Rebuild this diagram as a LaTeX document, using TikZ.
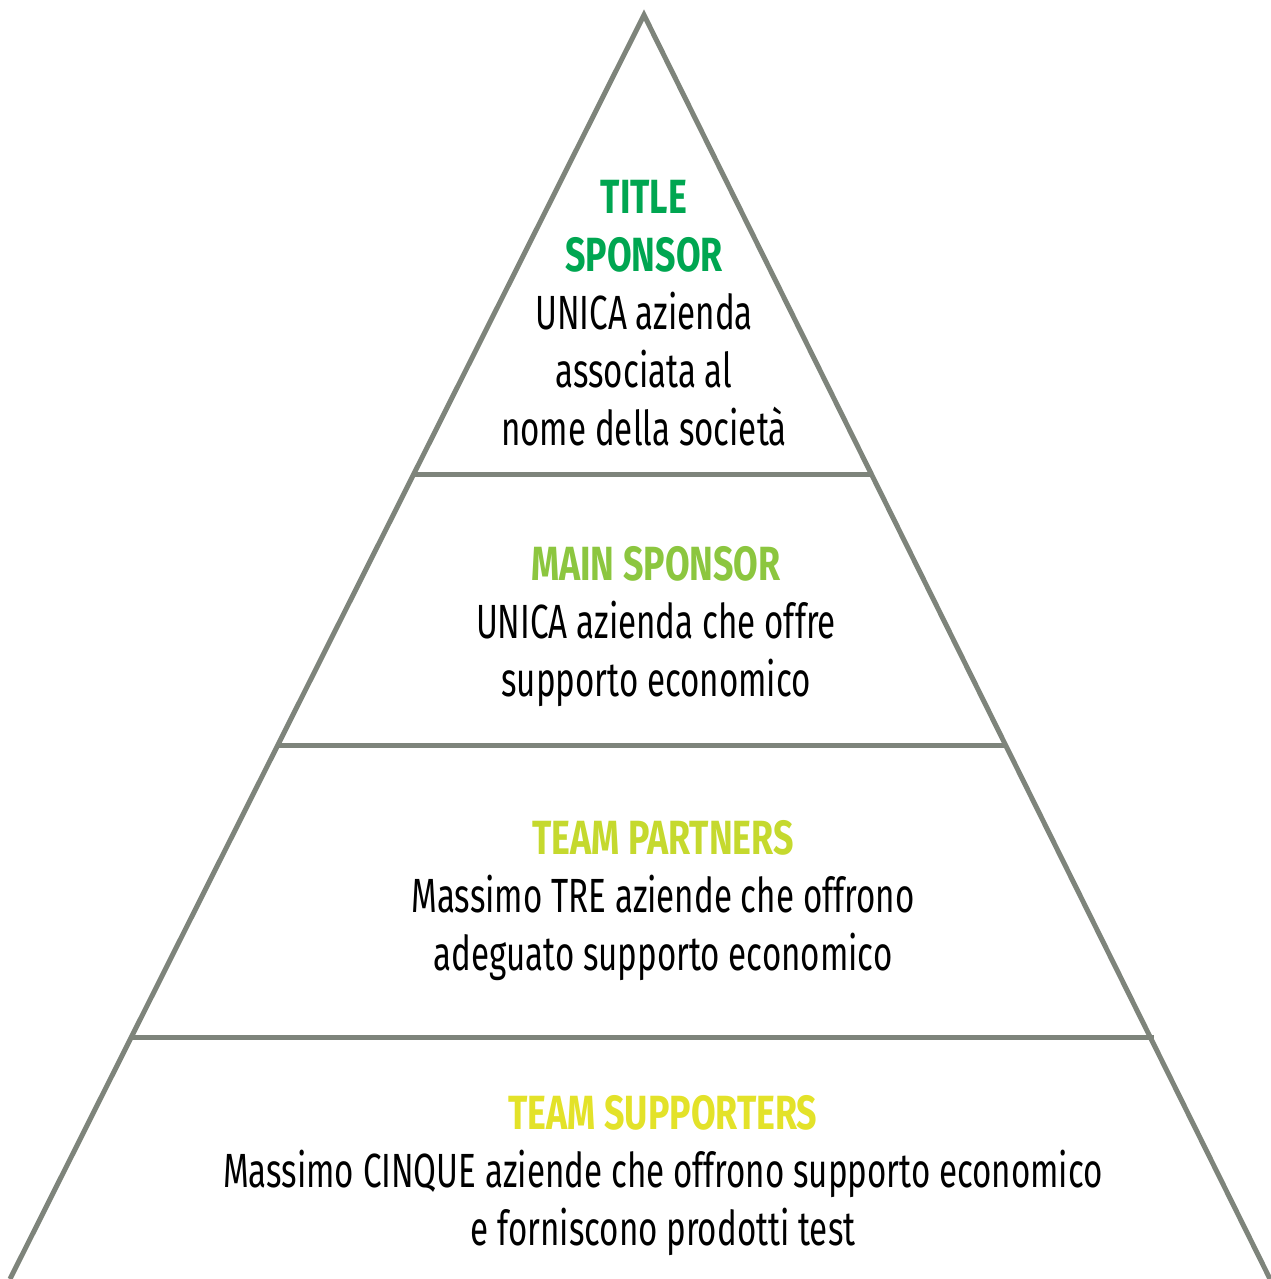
\documentclass[tikz,border=0pt]{standalone}
\usepackage{fontspec}
\setmainfont[FakeStretch=0.69]{Fira Sans}
\newfontfamily\headfont[FakeStretch=0.745]{Fira Sans}
\usepackage{tikz}
\usetikzlibrary{positioning}

\definecolor{lineGray}{HTML}{7E847B}
\definecolor{titleGreen}{HTML}{00A651}
\definecolor{mainGreen}{HTML}{8CC63F}
\definecolor{partnerGreen}{HTML}{C5D92E}
\definecolor{supporterYellow}{HTML}{E3E229}

\newcommand{\levelhead}[2]{\textcolor{#1}{\headfont\bfseries #2}}

\begin{document}
\begin{tikzpicture}[x=0.5pt,y=-0.5pt,
    % styles
    pyramid line/.style={lineGray,line width=2.5pt,line join=miter},
    level text/.style={anchor=base,align=center,inner sep=0pt,
      font=\fontsize{24}{29}\selectfont}]

  \useasboundingbox (0,0) rectangle (1270,1279);

  % outline
  \draw [pyramid line] (10,1279) -- (644,15) -- (1270,1279);

  % level separators
  \draw [pyramid line] (414,474) -- (871,474);
  \draw [pyramid line] (279,745) -- (1006,745);
  \draw [pyramid line] (132,1037) -- (1154,1037);

  % text (anchored at the last line)
  \node (title) [level text] at (644,445)
    {\levelhead{titleGreen}{TITLE}\\
     \levelhead{titleGreen}{SPONSOR}\\
     UNICA azienda\\ associata al\\ nome della società};
  \node (main) [level text] at (656,696)
    {\levelhead{mainGreen}{MAIN SPONSOR}\\
     UNICA azienda che offre\\ supporto economico};
  \node (partners) [level text] at (663,970)
    {\levelhead{partnerGreen}{TEAM PARTNERS}\\
     Massimo TRE aziende che offrono\\ adeguato supporto economico};
  \node (supporters) [level text] at (663,1245)
    {\levelhead{supporterYellow}{TEAM SUPPORTERS}\\
     Massimo CINQUE aziende che offrono supporto economico\\
     e forniscono prodotti test};
\end{tikzpicture}
\end{document}
